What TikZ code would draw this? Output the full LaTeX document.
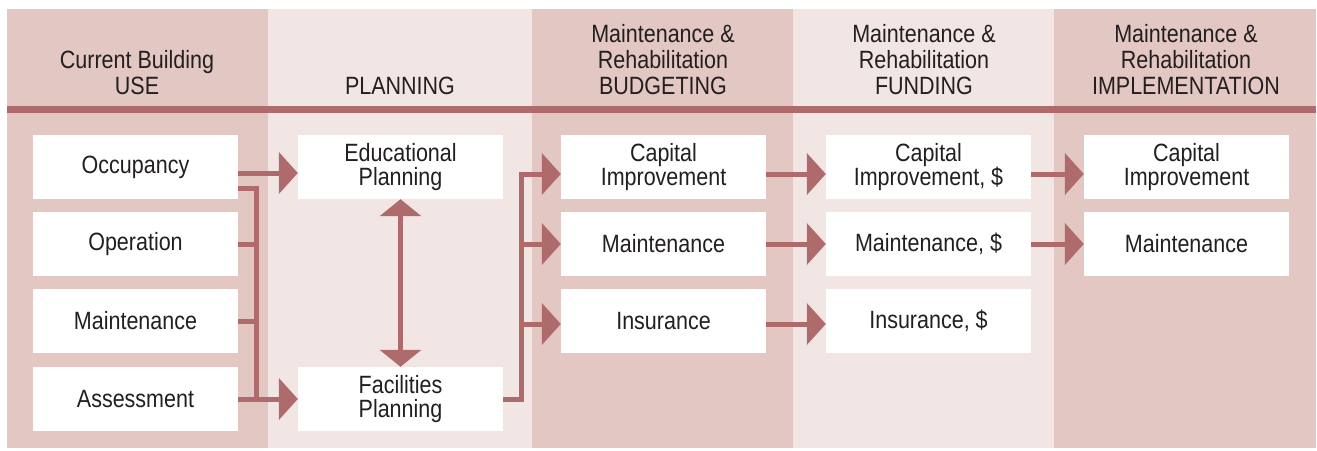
\documentclass[tikz,border=0pt]{standalone}
\usepackage{fontspec}
\setmainfont{Liberation Sans}[FakeStretch=0.86]
\usetikzlibrary{arrows.meta}
\definecolor{darkcol}{HTML}{E3C7C3}
\definecolor{lightcol}{HTML}{F2E6E4}
\definecolor{linecol}{HTML}{AF6B6B}
\definecolor{textcol}{HTML}{231F20}

\begin{document}
\begin{tikzpicture}[
        x=1pt, y=-1pt, % пиксели, ось y вниз
        text=textcol,
        box/.style={fill=white, minimum width=205pt, minimum height=64pt, inner sep=0pt, align=center, font=\fontsize{25}{24}\selectfont}, % белые блоки
        head/.style={anchor=base, align=center, inner sep=0pt, font=\fontsize{25}{26}\selectfont}, % заголовки колонок
        link/.style={draw=linecol, line width=5pt},
        arr/.style={link, -{Triangle[length=19pt, width=41pt]}},
        dbl/.style={link, {Triangle[length=17pt, width=41pt]}-{Triangle[length=17pt, width=41pt]}},
    ]
    \useasboundingbox (0,0) rectangle (1317,450);

    % колонки
    \fill[darkcol] (7,9) rectangle (268,448);
    \fill[lightcol] (268,9) rectangle (532,448);
    \fill[darkcol] (532,9) rectangle (793,448);
    \fill[lightcol] (793,9) rectangle (1054,448);
    \fill[darkcol] (1054,9) rectangle (1316,448);
    \fill[linecol] (7,106) rectangle (1316,113);

    \node[head] (huse) at (137,94) {Current Building\\USE};
    \node[head] (hplan) at (400,94) {PLANNING};
    \node[head] (hbudget) at (663,94) {Maintenance \&\\Rehabilitation\\BUDGETING};
    \node[head] (hfund) at (924,94) {Maintenance \&\\Rehabilitation\\FUNDING};
    \node[head] (himpl) at (1186,94) {Maintenance \&\\Rehabilitation\\IMPLEMENTATION};

    \node[box] (occ) at (135.5,167) {Occupancy};
    \node[box] (oper) at (135.5,244) {Operation};
    \node[box] (mnt) at (135.5,321) {Maintenance};
    \node[box] (assess) at (135.5,399) {Assessment};

    \node[box] (edu) at (400.5,167) {Educational\\Planning};
    \node[box] (fac) at (400.5,399) {Facilities\\Planning};

    \node[box] (bcap) at (663.5,167) {Capital\\Improvement};
    \node[box] (bmnt) at (663.5,244) {Maintenance};
    \node[box] (bins) at (663.5,321) {Insurance};

    \node[box] (fcap) at (928.5,167) {Capital\\Improvement, \$};
    \node[box] (fmnt) at (928.5,244) {Maintenance, \$};
    \node[box] (fins) at (928.5,321) {Insurance, \$};

    \node[box] (icap) at (1186.5,167) {Capital\\Improvement};
    \node[box] (imnt) at (1186.5,244) {Maintenance};

    % связи
    \draw[arr] ([yshift=-6pt]occ.east) -- ([yshift=-6pt]edu.west);
    \draw[link] ([yshift=-21pt]occ.east) -| ([xshift=18pt]assess.east);
    \draw[link] (oper.east) -- ++(18,0);
    \draw[link] (mnt.east) -- ++(18,0);
    \draw[arr] (assess.east) -- (fac.west);
    \draw[dbl] (edu.south) -- (fac.north);

    \draw[arr] (fac.east) -| ([xshift=-39pt,yshift=-7pt]bcap.west) -- ([yshift=-7pt]bcap.west);
    \draw[arr] ([xshift=-39pt]bmnt.west) -- (bmnt.west);
    \draw[arr] ([xshift=-39pt,yshift=-3pt]bins.west) -- ([yshift=-3pt]bins.west);

    \draw[arr] ([yshift=-7pt]bcap.east) -- ([yshift=-7pt]fcap.west);
    \draw[arr] (bmnt.east) -- (fmnt.west);
    \draw[arr] ([yshift=-3pt]bins.east) -- ([yshift=-3pt]fins.west);
    \draw[arr] ([yshift=-7pt]fcap.east) -- ([yshift=-7pt]icap.west);
    \draw[arr] (fmnt.east) -- (imnt.west);
\end{tikzpicture}
\end{document}
